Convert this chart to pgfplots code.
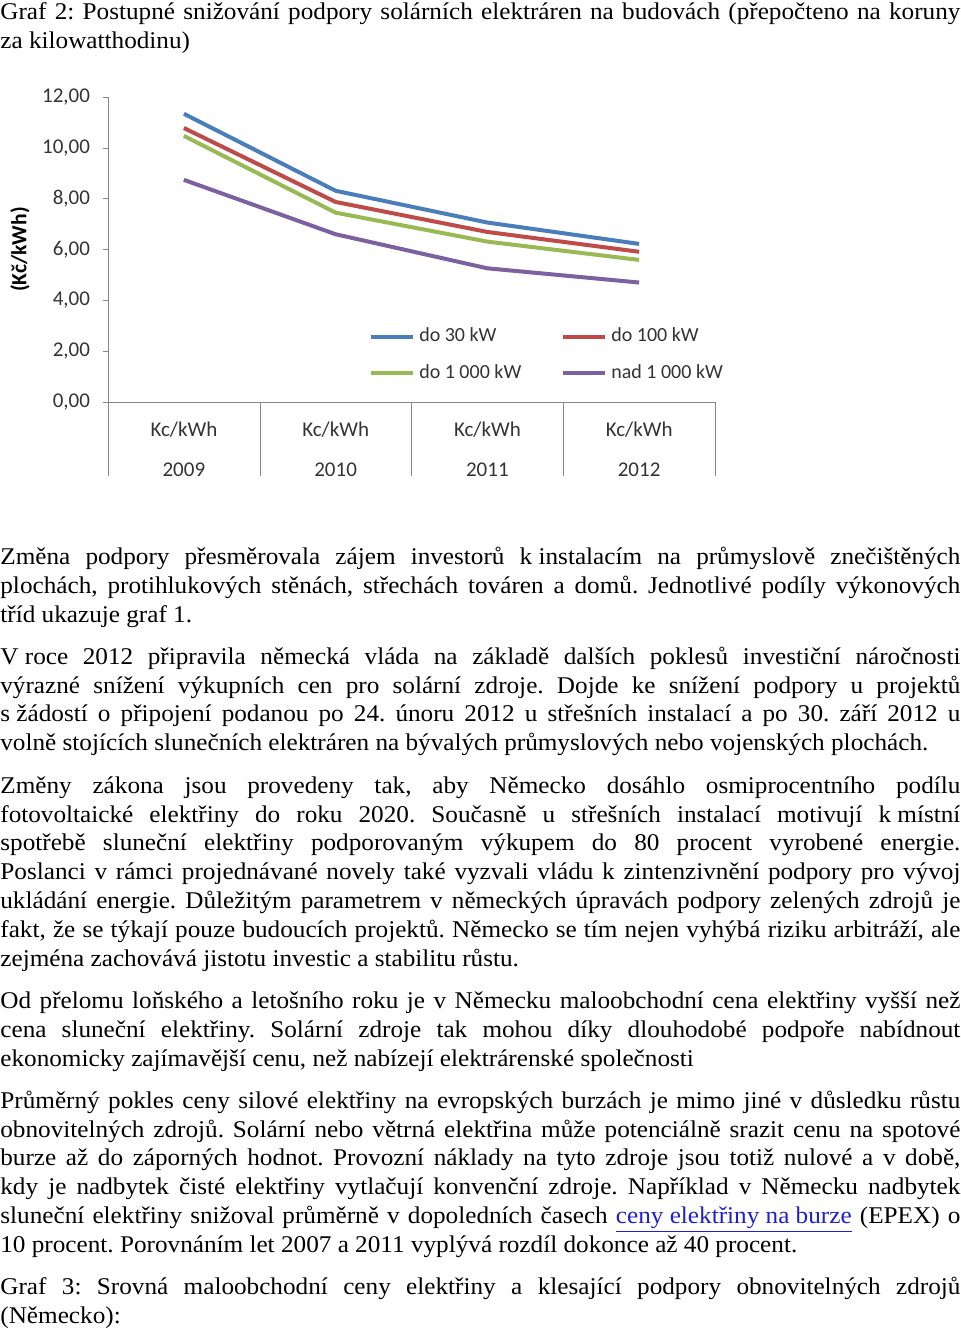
\documentclass[border=0pt]{standalone}
\usepackage{fontspec}
\setmainfont[FakeStretch=1.05]{Liberation Serif}
\newfontfamily\calibri{Carlito}
\usepackage{pgfplots}
\pgfplotsset{compat=1.18}
\definecolor{cblue}{HTML}{4A7EBB}
\definecolor{cred}{HTML}{BE4B48}
\definecolor{cgreen}{HTML}{98B954}
\definecolor{cpurple}{HTML}{7D60A0}
\definecolor{axisgray}{HTML}{868686}
\definecolor{labelgray}{HTML}{333333}
\definecolor{linkblue}{HTML}{1F1FCC}
\frenchspacing
\newcommand\JL[2]{\node[anchor=base west,inner sep=0pt,font=\fontsize{12pt}{14pt}\selectfont] at (0pt,{-0.5pt*#1}) {\makebox[480pt][s]{#2}};}
\newcommand\NL[2]{\node[anchor=base west,inner sep=0pt,font=\fontsize{12pt}{14pt}\selectfont] at (0pt,{-0.5pt*#1}) {#2};}
\begin{document}
\begin{tikzpicture}
\path[use as bounding box] (0pt,0pt) rectangle (480pt,-665.5pt);
% title
\JL{20}{Graf 2: Postupné snižování podpory solárních elektráren na budovách (přepočteno na koruny}
\NL{49}{za kilowatthodinu)}
\begin{axis}[
  at={(54pt,-201pt)}, anchor=south west,
  scale only axis, width=303.5pt, height=152.5pt,
  xmin=0.5, xmax=4.5, ymin=0, ymax=12,
  axis lines=left, axis line style={draw=axisgray,-},
  ytick={0,2,...,12},
  /pgf/number format/fixed, /pgf/number format/fixed zerofill,
  /pgf/number format/precision=2, /pgf/number format/use comma,
  /pgf/number format/assume math mode=true,
  ticklabel style={font=\calibri\fontsize{10.5pt}{12pt}\selectfont, text=labelgray},
  yticklabel style={xshift=-3pt},
  xtick={1,2,3,4}, xticklabels={Kc/kWh,Kc/kWh,Kc/kWh,Kc/kWh},
  extra x ticks={1,2,3,4}, extra x tick labels={2009,2010,2011,2012},
  extra x tick style={xticklabel style={yshift=-20.5pt}, major x tick style={draw=none}},
  minor xtick={0.5,1.5,2.5,3.5,4.5},
  tick align=outside,
  major tick length=2.5pt, minor tick length=37pt,
  major x tick style={draw=none},
  minor x tick style={draw=axisgray},
  ytick style={draw=axisgray},
  xticklabel style={yshift=-4pt},
  clip=false,
  legend columns=2,
  legend cell align=left,
  legend style={draw=none, fill=none, at={(axis cs:3.40,1.85)}, anchor=center,
    font=\calibri\fontsize{10pt}{11pt}\selectfont, text=labelgray, row sep=6pt,
    /tikz/every even column/.append style={column sep=18pt}},
  legend image code/.code={\draw[#1] (0pt,0pt) -- (21pt,0pt);},
  every axis plot/.append style={line width=2pt},
]
\addplot[cblue] coordinates {(1,11.34) (2,8.31) (3,7.06) (4,6.22)};
\addlegendentry{do 30~kW}
\addplot[cred] coordinates {(1,10.78) (2,7.87) (3,6.69) (4,5.91)};
\addlegendentry{do 100~kW}
\addplot[cgreen] coordinates {(1,10.47) (2,7.45) (3,6.31) (4,5.59)};
\addlegendentry{do 1~000~kW}
\addplot[cpurple] coordinates {(1,8.74) (2,6.60) (3,5.26) (4,4.70)};
\addlegendentry{nad 1~000~kW}
\node[rotate=90, font=\calibri\bfseries\fontsize{10.8pt}{12pt}\selectfont] at (axis description cs:-0.145,0.5) {(Kč/kWh)};
\end{axis}
% paragraph 1
\JL{564}{Změna podpory přesměrovala zájem investorů \mbox{k instalacím} na průmyslově znečištěných}
\JL{593}{plochách, protihlukových stěnách, střechách továren a domů. Jednotlivé podíly výkonových}
\NL{622}{tříd ukazuje graf 1.}
% paragraph 2
\JL{664}{\mbox{V roce} 2012 připravila německá vláda na základě dalších poklesů investiční náročnosti}
\JL{693}{výrazné snížení výkupních cen pro solární zdroje. Dojde ke snížení podpory u projektů}
\JL{721}{\mbox{s žádostí} o připojení podanou po 24. únoru 2012 u střešních instalací a po 30. září 2012 u}
\NL{750}{volně stojících slunečních elektráren na bývalých průmyslových nebo vojenských plochách.}
% paragraph 3
\JL{793}{Změny zákona jsou provedeny tak, aby Německo dosáhlo osmiprocentního podílu}
\JL{822}{fotovoltaické elektřiny do roku 2020. Současně u střešních instalací motivují \mbox{k místní}}
\JL{850}{spotřebě sluneční elektřiny podporovaným výkupem do 80 procent vyrobené energie.}
\JL{879}{Poslanci v rámci projednávané novely také vyzvali vládu k zintenzivnění podpory pro vývoj}
\JL{908}{ukládání energie. Důležitým parametrem v německých úpravách podpory zelených zdrojů je}
\JL{937}{fakt, že se týkají pouze budoucích projektů. Německo se tím nejen vyhýbá riziku arbitráží, ale}
\NL{966}{zejména zachovává jistotu investic a stabilitu růstu.}
% paragraph 4
\JL{1008}{Od přelomu loňského a letošního roku je v Německu maloobchodní cena elektřiny vyšší než}
\JL{1037}{cena sluneční elektřiny. Solární zdroje tak mohou díky dlouhodobé podpoře nabídnout}
\NL{1066}{ekonomicky zajímavější cenu, než nabízejí elektrárenské společnosti}
% paragraph 5
\JL{1108}{Průměrný pokles ceny silové elektřiny na evropských burzách je mimo jiné v důsledku růstu}
\JL{1137}{obnovitelných zdrojů. Solární nebo větrná elektřina může potenciálně srazit cenu na spotové}
\JL{1165}{burze až do záporných hodnot. Provozní náklady na tyto zdroje jsou totiž nulové a v době,}
\JL{1194}{kdy je nadbytek čisté elektřiny vytlačují konvenční zdroje. Například v Německu nadbytek}
\JL{1223}{sluneční elektřiny snižoval průměrně v dopoledních časech \textcolor{linkblue}{\underline{ceny elektřiny na burze}} (EPEX) o}
\NL{1252}{10 procent. Porovnáním let 2007 a 2011 vyplývá rozdíl dokonce až 40 procent.}
% paragraph 6
\JL{1294}{Graf 3: Srovná maloobchodní ceny elektřiny a klesající podpory obnovitelných zdrojů}
\NL{1323}{(Německo):}
\end{tikzpicture}
\end{document}
